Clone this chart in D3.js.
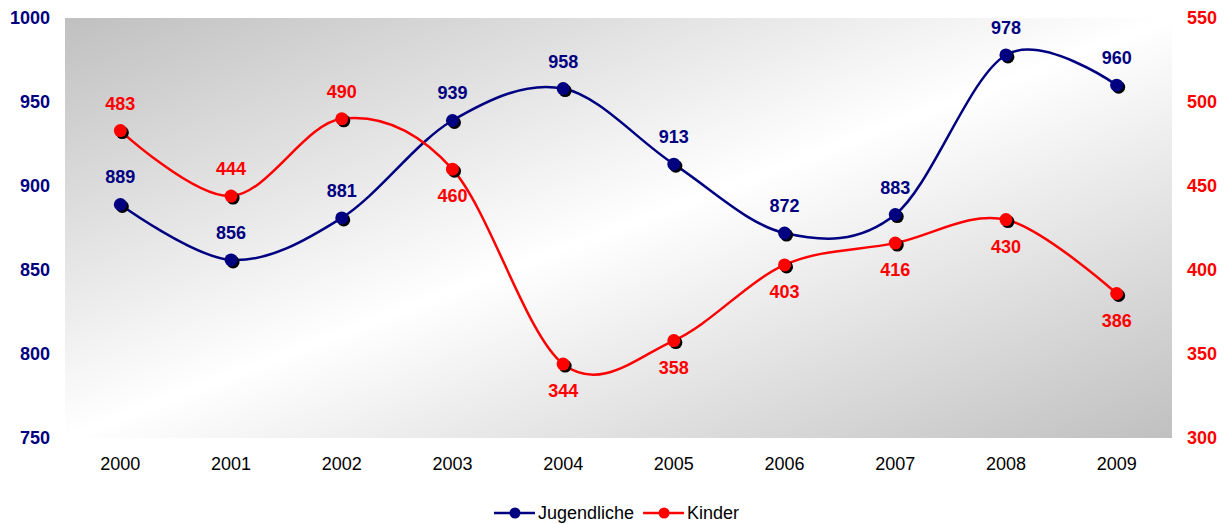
<!DOCTYPE html>
<html>
<head>
<meta charset="utf-8">
<script src="https://cdn.jsdelivr.net/npm/d3@7"></script>
<style>
  body { margin: 0; background: #fff; }
  svg { font-family: "Liberation Sans", Arial, sans-serif; }
</style>
</head>
<body>
<svg id="chart"></svg>
<script>
var years = ["2000", "2001", "2002", "2003", "2004", "2005", "2006", "2007", "2008", "2009"];
var jugendliche = [889, 856, 881, 939, 958, 913, 872, 883, 978, 960];
var kinder = [483, 444, 490, 460, 344, 358, 403, 416, 430, 386];
var leftTicks = [750, 800, 850, 900, 950, 1000];
var rightTicks = [300, 350, 400, 450, 500, 550];
var seriesNames = ["Jugendliche", "Kinder"];

var outerWidth = 1227;
var outerHeight = 524;
var margin = { top: 18, left: 65, right: 55, bottom: 86 };
var width = outerWidth - margin.left - margin.right;
var height = outerHeight - margin.top - margin.bottom;

var navy = "#000080";
var red = "#ff0000";

var svg = d3.select("#chart").attr("width", outerWidth).attr("height", outerHeight);

// background gradient
var defs = svg.append("defs");
var lg = defs
  .append("linearGradient")
  .attr("id", "bg")
  .attr("x1", "0%")
  .attr("y1", "0%")
  .attr("x2", "100%")
  .attr("y2", "100%");
lg.append("stop").attr("offset", "0%").attr("stop-color", "#c0c0c0");
lg.append("stop").attr("offset", "50%").attr("stop-color", "#ffffff");
lg.append("stop").attr("offset", "100%").attr("stop-color", "#c0c0c0");

var cg = svg
  .append("g")
  .attr("transform", "translate(" + margin.left + "," + margin.top + ")");

cg.append("rect")
  .attr("width", width)
  .attr("height", height)
  .style("fill", "url(#bg)");

var x = d3.scaleBand().domain(years).range([0, width]);
var cx = (d) => x(d) + x.bandwidth() / 2;
var yL = d3.scaleLinear().domain([750, 1000]).range([height, 0]);
var yR = d3.scaleLinear().domain([300, 550]).range([height, 0]);

// axes
var axisL = d3
  .axisLeft(yL)
  .tickValues(leftTicks)
  .tickFormat(d3.format("d"))
  .tickSize(0)
  .tickPadding(15);
var gl = cg.append("g").call(axisL);
gl.select(".domain").remove();
gl.selectAll("text")
  .style("font-size", "18px")
  .style("font-weight", "bold")
  .style("font-family", "'Liberation Sans', Arial, sans-serif")
  .attr("fill", navy);

var axisR = d3
  .axisRight(yR)
  .tickValues(rightTicks)
  .tickFormat(d3.format("d"))
  .tickSize(0)
  .tickPadding(15);
var gr = cg.append("g").attr("transform", `translate(${width},0)`).call(axisR);
gr.select(".domain").remove();
gr.selectAll("text")
  .style("font-size", "18px")
  .style("font-weight", "bold")
  .style("font-family", "'Liberation Sans', Arial, sans-serif")
  .attr("fill", red);

var axisB = d3.axisBottom(x).tickSize(0).tickPadding(19);
var gb = cg.append("g").attr("transform", `translate(0,${height})`).call(axisB);
gb.select(".domain").remove();
gb.selectAll("text")
  .style("font-size", "18px")
  .style("font-family", "'Liberation Sans', Arial, sans-serif")
  .attr("fill", "#000");

// lines
var series = [
  { name: seriesNames[0], values: jugendliche, scale: yL, color: navy },
  { name: seriesNames[1], values: kinder, scale: yR, color: red },
];

var line = (s) =>
  d3
    .line()
    .x((d, i) => cx(years[i]))
    .y((d) => s.scale(d))
    .curve(d3.curveCardinal.tension(0))(s.values);

series.forEach((s) => {
  cg.append("path")
    .attr("d", line(s))
    .attr("fill", "none")
    .attr("stroke", s.color)
    .attr("stroke-width", 2.5);
});

series.forEach((s) => {
  var g = cg.append("g");
  g.selectAll("circle.shadow")
    .data(s.values)
    .enter()
    .append("circle")
    .attr("class", "shadow")
    .attr("cx", (d, i) => cx(years[i]) + 2)
    .attr("cy", (d) => s.scale(d) + 2)
    .attr("r", 6.5)
    .attr("fill", "#000");
  g.selectAll("circle.dot")
    .data(s.values)
    .enter()
    .append("circle")
    .attr("class", "dot")
    .attr("cx", (d, i) => cx(years[i]))
    .attr("cy", (d) => s.scale(d))
    .attr("r", 6.5)
    .attr("fill", s.color);
});

// data labels: Kinder label goes above when its point sits above Jugendliche
series.forEach((s, si) => {
  cg.append("g")
    .selectAll("text")
    .data(s.values)
    .enter()
    .append("text")
    .attr("x", (d, i) => cx(years[i]))
    .attr("y", (d, i) => {
      var py = s.scale(d);
      var above = true;
      if (si == 1) above = py < yL(jugendliche[i]);
      return above ? py - 27 : py + 27;
    })
    .attr("text-anchor", "middle")
    .attr("dominant-baseline", "central")
    .style("font-size", "18px")
    .style("font-weight", "bold")
    .attr("fill", s.color)
    .text((d) => d);
});

// legend
var legend = svg.append("g").attr("transform", `translate(494,${513})`);
var lx = 0;
series.forEach((s) => {
  var item = legend.append("g").attr("transform", `translate(${lx},0)`);
  item.append("line")
    .attr("x1", 0)
    .attr("x2", 41)
    .attr("stroke", s.color)
    .attr("stroke-width", 2.5);
  item.append("circle").attr("cx", 21).attr("r", 5.5).attr("fill", s.color);
  var t = item
    .append("text")
    .attr("x", 44)
    .attr("dominant-baseline", "central")
    .style("font-size", "18px")
    .attr("fill", "#000")
    .text(s.name);
  lx += 44 + t.node().getComputedTextLength() + 9;
});
</script>
</body>
</html>
